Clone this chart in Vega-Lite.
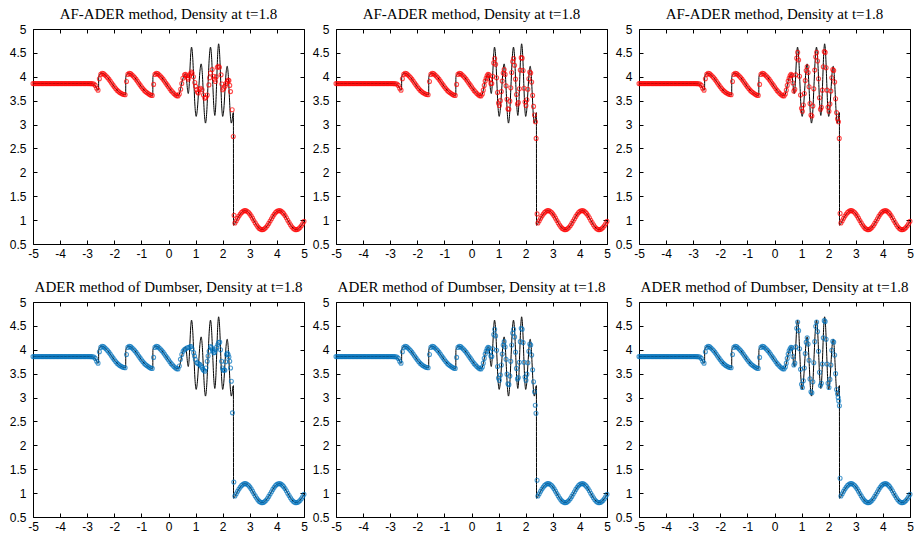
{
"$schema":"https://vega.github.io/schema/vega-lite/v6.json",
"background":"white",
"autosize":{"type":"pad"},
"padding":{"left":8,"top":6,"right":0,"bottom":0},
"config":{
 "view":{"stroke":"black","strokeWidth":1},
 "axis":{"grid":false,"domain":false,"ticks":true,"tickColor":"black","tickSize":-4,"tickWidth":1,"labelFont":"Liberation Sans","labelFontSize":12,"labelColor":"black","labelFlush":false,"labelOverlap":false},
 "axisX":{"labelPadding":8},
 "axisY":{"labelPadding":11},
 "title":{"font":"Liberation Serif","fontSize":15,"fontWeight":"normal","color":"black","offset":1,"anchor":"middle"}
},
"datasets":{
"ref":[{"x":-5,"y":3.857},{"x":-2.9,"y":3.857},{"x":-2.8,"y":3.852},{"x":-2.75,"y":3.84},{"x":-2.7,"y":3.81},{"x":-2.65,"y":3.76},{"x":-2.61,"y":3.72},{"x":-2.58,"y":3.725},{"x":-2.575,"y":4.0},{"x":-2.52,"y":4.06},{"x":-2.45,"y":4.075},{"x":-2.38,"y":4.06},{"x":-2.3,"y":4.02},{"x":-2.2,"y":3.95},{"x":-2.1,"y":3.87},{"x":-2.0,"y":3.79},{"x":-1.9,"y":3.72},{"x":-1.8,"y":3.67},{"x":-1.7,"y":3.64},{"x":-1.62,"y":3.625},{"x":-1.58,"y":3.63},{"x":-1.575,"y":4.0},{"x":-1.52,"y":4.06},{"x":-1.45,"y":4.075},{"x":-1.38,"y":4.06},{"x":-1.3,"y":4.02},{"x":-1.2,"y":3.95},{"x":-1.1,"y":3.87},{"x":-1.0,"y":3.79},{"x":-0.9,"y":3.72},{"x":-0.8,"y":3.67},{"x":-0.7,"y":3.63},{"x":-0.62,"y":3.61},{"x":-0.58,"y":3.615},{"x":-0.575,"y":4.0},{"x":-0.52,"y":4.06},{"x":-0.45,"y":4.075},{"x":-0.38,"y":4.06},{"x":-0.3,"y":4.02},{"x":-0.2,"y":3.95},{"x":-0.1,"y":3.87},{"x":0,"y":3.79},{"x":0.1,"y":3.71},{"x":0.2,"y":3.65},{"x":0.3,"y":3.605},{"x":0.35,"y":3.6},{"x":0.4,"y":3.64},{"x":0.45,"y":3.76},{"x":0.5,"y":3.9},{"x":0.55,"y":3.99},{"x":0.6,"y":4.05},{"x":0.63,"y":4.06},{"x":0.655,"y":4.0},{"x":0.68,"y":3.855},{"x":0.705,"y":3.71},{"x":0.73,"y":3.65},{"x":0.76,"y":3.79},{"x":0.79,"y":4.135},{"x":0.82,"y":4.48},{"x":0.85,"y":4.62},{"x":0.8925,"y":4.41},{"x":0.935,"y":3.895},{"x":0.9775,"y":3.38},{"x":1.02,"y":3.17},{"x":1.066,"y":3.33},{"x":1.1125,"y":3.72},{"x":1.159,"y":4.11},{"x":1.205,"y":4.27},{"x":1.245,"y":4.09},{"x":1.285,"y":3.65},{"x":1.325,"y":3.21},{"x":1.365,"y":3.03},{"x":1.411,"y":3.26},{"x":1.4575,"y":3.825},{"x":1.504,"y":4.39},{"x":1.55,"y":4.62},{"x":1.59,"y":4.41},{"x":1.63,"y":3.905},{"x":1.67,"y":3.4},{"x":1.71,"y":3.19},{"x":1.745,"y":3.41},{"x":1.78,"y":3.94},{"x":1.815,"y":4.47},{"x":1.85,"y":4.69},{"x":1.8875,"y":4.47},{"x":1.925,"y":3.93},{"x":1.9625,"y":3.39},{"x":2.0,"y":3.17},{"x":2.041,"y":3.32},{"x":2.0825,"y":3.695},{"x":2.124,"y":4.07},{"x":2.165,"y":4.22},{"x":2.204,"y":4.05},{"x":2.2425,"y":3.625},{"x":2.281,"y":3.2},{"x":2.32,"y":3.03},{"x":2.35,"y":3.1},{"x":2.375,"y":3.22},{"x":2.395,"y":3.25},{"x":2.4,"y":0.893},{"x":2.5,"y":0.987},{"x":2.6,"y":1.084},{"x":2.7,"y":1.161},{"x":2.8,"y":1.198},{"x":2.9,"y":1.187},{"x":3.0,"y":1.13},{"x":3.1,"y":1.041},{"x":3.2,"y":0.942},{"x":3.3,"y":0.858},{"x":3.4,"y":0.808},{"x":3.5,"y":0.805},{"x":3.6,"y":0.85},{"x":3.7,"y":0.931},{"x":3.8,"y":1.03},{"x":3.9,"y":1.121},{"x":4.0,"y":1.183},{"x":4.1,"y":1.199},{"x":4.2,"y":1.167},{"x":4.3,"y":1.094},{"x":4.4,"y":0.998},{"x":4.5,"y":0.902},{"x":4.6,"y":0.831},{"x":4.7,"y":0.8},{"x":4.8,"y":0.819},{"x":4.9,"y":0.882},{"x":5.0,"y":0.974}],
"smooth":[{"x":-5,"y":3.857},{"x":-4.95,"y":3.857},{"x":-4.9,"y":3.857},{"x":-4.85,"y":3.857},{"x":-4.8,"y":3.857},{"x":-4.75,"y":3.857},{"x":-4.7,"y":3.857},{"x":-4.65,"y":3.857},{"x":-4.6,"y":3.857},{"x":-4.55,"y":3.857},{"x":-4.5,"y":3.857},{"x":-4.45,"y":3.857},{"x":-4.4,"y":3.857},{"x":-4.35,"y":3.857},{"x":-4.3,"y":3.857},{"x":-4.25,"y":3.857},{"x":-4.2,"y":3.857},{"x":-4.15,"y":3.857},{"x":-4.1,"y":3.857},{"x":-4.05,"y":3.857},{"x":-4,"y":3.857},{"x":-3.95,"y":3.857},{"x":-3.9,"y":3.857},{"x":-3.85,"y":3.857},{"x":-3.8,"y":3.857},{"x":-3.75,"y":3.857},{"x":-3.7,"y":3.857},{"x":-3.65,"y":3.857},{"x":-3.6,"y":3.857},{"x":-3.55,"y":3.857},{"x":-3.5,"y":3.857},{"x":-3.45,"y":3.857},{"x":-3.4,"y":3.857},{"x":-3.35,"y":3.857},{"x":-3.3,"y":3.857},{"x":-3.25,"y":3.857},{"x":-3.2,"y":3.857},{"x":-3.15,"y":3.857},{"x":-3.1,"y":3.857},{"x":-3.05,"y":3.857},{"x":-3,"y":3.857},{"x":-2.95,"y":3.857},{"x":-2.9,"y":3.857},{"x":-2.85,"y":3.856},{"x":-2.8,"y":3.854},{"x":-2.75,"y":3.85},{"x":-2.7,"y":3.82},{"x":-2.65,"y":3.76},{"x":-2.6,"y":3.72},{"x":-2.55,"y":3.96},{"x":-2.5,"y":4.05},{"x":-2.45,"y":4.075},{"x":-2.4,"y":4.065},{"x":-2.35,"y":4.04},{"x":-2.3,"y":4.015},{"x":-2.25,"y":3.985},{"x":-2.2,"y":3.95},{"x":-2.15,"y":3.91},{"x":-2.1,"y":3.87},{"x":-2.05,"y":3.83},{"x":-2,"y":3.79},{"x":-1.95,"y":3.755},{"x":-1.9,"y":3.72},{"x":-1.85,"y":3.695},{"x":-1.8,"y":3.67},{"x":-1.75,"y":3.655},{"x":-1.7,"y":3.64},{"x":-1.65,"y":3.63},{"x":-1.6,"y":3.625},{"x":-1.55,"y":3.9},{"x":-1.5,"y":4.05},{"x":-1.45,"y":4.075},{"x":-1.4,"y":4.065},{"x":-1.35,"y":4.04},{"x":-1.3,"y":4.015},{"x":-1.25,"y":3.985},{"x":-1.2,"y":3.95},{"x":-1.15,"y":3.91},{"x":-1.1,"y":3.87},{"x":-1.05,"y":3.83},{"x":-1,"y":3.79},{"x":-0.95,"y":3.755},{"x":-0.9,"y":3.72},{"x":-0.85,"y":3.69},{"x":-0.8,"y":3.67},{"x":-0.75,"y":3.65},{"x":-0.7,"y":3.63},{"x":-0.65,"y":3.615},{"x":-0.6,"y":3.61},{"x":-0.55,"y":3.84},{"x":-0.5,"y":4.05},{"x":-0.45,"y":4.075},{"x":-0.4,"y":4.065},{"x":-0.35,"y":4.04},{"x":-0.3,"y":4.015},{"x":-0.25,"y":3.985},{"x":-0.2,"y":3.95},{"x":-0.15,"y":3.91},{"x":-0.1,"y":3.87},{"x":-0.05,"y":3.83},{"x":0,"y":3.79},{"x":0.05,"y":3.75},{"x":0.1,"y":3.71},{"x":0.15,"y":3.68},{"x":0.2,"y":3.65},{"x":0.25,"y":3.625},{"x":0.3,"y":3.605},{"x":0.35,"y":3.6},{"x":2.45,"y":0.938},{"x":2.5,"y":0.987},{"x":2.55,"y":1.037},{"x":2.6,"y":1.084},{"x":2.65,"y":1.126},{"x":2.7,"y":1.161},{"x":2.75,"y":1.185},{"x":2.8,"y":1.198},{"x":2.85,"y":1.199},{"x":2.9,"y":1.187},{"x":2.95,"y":1.164},{"x":3,"y":1.13},{"x":3.05,"y":1.088},{"x":3.1,"y":1.041},{"x":3.15,"y":0.992},{"x":3.2,"y":0.942},{"x":3.25,"y":0.897},{"x":3.3,"y":0.858},{"x":3.35,"y":0.827},{"x":3.4,"y":0.808},{"x":3.45,"y":0.8},{"x":3.5,"y":0.805},{"x":3.55,"y":0.822},{"x":3.6,"y":0.85},{"x":3.65,"y":0.887},{"x":3.7,"y":0.931},{"x":3.75,"y":0.98},{"x":3.8,"y":1.03},{"x":3.85,"y":1.078},{"x":3.9,"y":1.121},{"x":3.95,"y":1.157},{"x":4,"y":1.183},{"x":4.05,"y":1.197},{"x":4.1,"y":1.199},{"x":4.15,"y":1.189},{"x":4.2,"y":1.167},{"x":4.25,"y":1.135},{"x":4.3,"y":1.094},{"x":4.35,"y":1.048},{"x":4.4,"y":0.998},{"x":4.45,"y":0.949},{"x":4.5,"y":0.902},{"x":4.55,"y":0.862},{"x":4.6,"y":0.831},{"x":4.65,"y":0.81},{"x":4.7,"y":0.8},{"x":4.75,"y":0.804},{"x":4.8,"y":0.819},{"x":4.85,"y":0.845},{"x":4.9,"y":0.882},{"x":4.95,"y":0.925},{"x":5,"y":0.974}],
"osc":[
{"p":1,"x":0.4,"y":3.64},{"p":1,"x":0.45,"y":3.74},{"p":1,"x":0.49,"y":3.86},{"p":1,"x":0.53,"y":3.97},{"p":1,"x":0.59,"y":4.04},{"p":1,"x":0.63,"y":4.05},{"p":1,"x":0.66,"y":4.02},{"p":1,"x":0.7,"y":3.98},{"p":1,"x":0.73,"y":3.95},{"p":1,"x":0.77,"y":4.02},{"p":1,"x":0.81,"y":4.06},{"p":1,"x":0.84,"y":4.1},{"p":1,"x":0.87,"y":4.08},{"p":1,"x":0.92,"y":4.0},{"p":1,"x":0.97,"y":3.88},{"p":1,"x":1.0,"y":3.8},{"p":1,"x":1.04,"y":3.73},{"p":1,"x":1.07,"y":3.68},{"p":1,"x":1.1,"y":3.66},{"p":1,"x":1.14,"y":3.74},{"p":1,"x":1.18,"y":3.76},{"p":1,"x":1.24,"y":3.73},{"p":1,"x":1.29,"y":3.62},{"p":1,"x":1.34,"y":3.55},{"p":1,"x":1.38,"y":3.57},{"p":1,"x":1.43,"y":3.62},{"p":1,"x":1.49,"y":3.83},{"p":1,"x":1.52,"y":3.98},{"p":1,"x":1.55,"y":4.08},{"p":1,"x":1.61,"y":4.15},{"p":1,"x":1.67,"y":4.01},{"p":1,"x":1.7,"y":3.95},{"p":1,"x":1.73,"y":3.9},{"p":1,"x":1.76,"y":4.0},{"p":1,"x":1.8,"y":4.2},{"p":1,"x":1.84,"y":4.22},{"p":1,"x":1.88,"y":4.2},{"p":1,"x":1.94,"y":4.04},{"p":1,"x":1.97,"y":3.85},{"p":1,"x":2.0,"y":3.73},{"p":1,"x":2.04,"y":3.76},{"p":1,"x":2.08,"y":3.8},{"p":1,"x":2.12,"y":3.86},{"p":1,"x":2.17,"y":3.9},{"p":1,"x":2.2,"y":3.93},{"p":1,"x":2.23,"y":3.92},{"p":1,"x":2.26,"y":3.82},{"p":1,"x":2.29,"y":3.69},{"p":1,"x":2.35,"y":3.31},{"p":1,"x":2.39,"y":2.75},{"p":1,"x":2.42,"y":1.1},
{"p":2,"x":0.4,"y":3.64},{"p":2,"x":0.435,"y":3.72},{"p":2,"x":0.47,"y":3.82},{"p":2,"x":0.505,"y":3.91},{"p":2,"x":0.54,"y":3.97},{"p":2,"x":0.575,"y":4.02},{"p":2,"x":0.61,"y":4.05},{"p":2,"x":0.645,"y":4.04},{"p":2,"x":0.68,"y":3.95},{"p":2,"x":0.715,"y":3.86},{"p":2,"x":0.75,"y":3.86},{"p":2,"x":0.785,"y":4.01},{"p":2,"x":0.82,"y":4.29},{"p":2,"x":0.855,"y":4.38},{"p":2,"x":0.89,"y":4.26},{"p":2,"x":0.925,"y":3.98},{"p":2,"x":0.96,"y":3.67},{"p":2,"x":0.995,"y":3.45},{"p":2,"x":1.03,"y":3.4},{"p":2,"x":1.065,"y":3.5},{"p":2,"x":1.1,"y":3.69},{"p":2,"x":1.135,"y":3.91},{"p":2,"x":1.17,"y":4.08},{"p":2,"x":1.205,"y":4.15},{"p":2,"x":1.24,"y":4.05},{"p":2,"x":1.275,"y":3.81},{"p":2,"x":1.31,"y":3.53},{"p":2,"x":1.345,"y":3.33},{"p":2,"x":1.38,"y":3.32},{"p":2,"x":1.415,"y":3.49},{"p":2,"x":1.45,"y":3.77},{"p":2,"x":1.485,"y":4.09},{"p":2,"x":1.52,"y":4.32},{"p":2,"x":1.555,"y":4.38},{"p":2,"x":1.59,"y":4.24},{"p":2,"x":1.625,"y":3.95},{"p":2,"x":1.66,"y":3.63},{"p":2,"x":1.695,"y":3.43},{"p":2,"x":1.73,"y":3.46},{"p":2,"x":1.765,"y":3.75},{"p":2,"x":1.8,"y":4.14},{"p":2,"x":1.835,"y":4.4},{"p":2,"x":1.87,"y":4.39},{"p":2,"x":1.905,"y":4.13},{"p":2,"x":1.94,"y":3.76},{"p":2,"x":1.975,"y":3.47},{"p":2,"x":2.01,"y":3.4},{"p":2,"x":2.045,"y":3.52},{"p":2,"x":2.08,"y":3.74},{"p":2,"x":2.115,"y":3.96},{"p":2,"x":2.15,"y":4.1},{"p":2,"x":2.185,"y":4.08},{"p":2,"x":2.22,"y":3.89},{"p":2,"x":2.255,"y":3.61},{"p":2,"x":2.29,"y":3.38},{"p":2,"x":2.325,"y":3.2},{"p":2,"x":2.36,"y":3.06},{"p":2,"x":2.385,"y":2.71},{"p":2,"x":2.42,"y":1.13},
{"p":3,"x":0.4,"y":3.64},{"p":3,"x":0.435,"y":3.72},{"p":3,"x":0.47,"y":3.82},{"p":3,"x":0.505,"y":3.91},{"p":3,"x":0.54,"y":3.97},{"p":3,"x":0.575,"y":4.02},{"p":3,"x":0.61,"y":4.05},{"p":3,"x":0.645,"y":4.03},{"p":3,"x":0.68,"y":3.87},{"p":3,"x":0.715,"y":3.7},{"p":3,"x":0.75,"y":3.74},{"p":3,"x":0.785,"y":4.04},{"p":3,"x":0.82,"y":4.39},{"p":3,"x":0.855,"y":4.51},{"p":3,"x":0.89,"y":4.35},{"p":3,"x":0.925,"y":4.01},{"p":3,"x":0.96,"y":3.62},{"p":3,"x":0.995,"y":3.34},{"p":3,"x":1.03,"y":3.28},{"p":3,"x":1.065,"y":3.41},{"p":3,"x":1.1,"y":3.65},{"p":3,"x":1.135,"y":3.92},{"p":3,"x":1.17,"y":4.13},{"p":3,"x":1.205,"y":4.21},{"p":3,"x":1.24,"y":4.09},{"p":3,"x":1.275,"y":3.79},{"p":3,"x":1.31,"y":3.44},{"p":3,"x":1.345,"y":3.2},{"p":3,"x":1.38,"y":3.18},{"p":3,"x":1.415,"y":3.39},{"p":3,"x":1.45,"y":3.75},{"p":3,"x":1.485,"y":4.14},{"p":3,"x":1.52,"y":4.42},{"p":3,"x":1.555,"y":4.51},{"p":3,"x":1.59,"y":4.33},{"p":3,"x":1.625,"y":3.96},{"p":3,"x":1.66,"y":3.56},{"p":3,"x":1.695,"y":3.32},{"p":3,"x":1.73,"y":3.36},{"p":3,"x":1.765,"y":3.72},{"p":3,"x":1.8,"y":4.21},{"p":3,"x":1.835,"y":4.53},{"p":3,"x":1.87,"y":4.51},{"p":3,"x":1.905,"y":4.19},{"p":3,"x":1.94,"y":3.72},{"p":3,"x":1.975,"y":3.36},{"p":3,"x":2.01,"y":3.28},{"p":3,"x":2.045,"y":3.43},{"p":3,"x":2.08,"y":3.7},{"p":3,"x":2.115,"y":3.98},{"p":3,"x":2.15,"y":4.15},{"p":3,"x":2.185,"y":4.13},{"p":3,"x":2.22,"y":3.89},{"p":3,"x":2.255,"y":3.54},{"p":3,"x":2.29,"y":3.25},{"p":3,"x":2.325,"y":3.12},{"p":3,"x":2.36,"y":3.06},{"p":3,"x":2.39,"y":2.71},{"p":3,"x":2.42,"y":1.14},
{"p":4,"x":0.4,"y":3.66},{"p":4,"x":0.44,"y":3.8},{"p":4,"x":0.49,"y":3.9},{"p":4,"x":0.54,"y":3.97},{"p":4,"x":0.58,"y":4.0},{"p":4,"x":0.63,"y":4.02},{"p":4,"x":0.69,"y":4.04},{"p":4,"x":0.75,"y":4.05},{"p":4,"x":0.8,"y":4.06},{"p":4,"x":0.84,"y":4.07},{"p":4,"x":0.87,"y":4.02},{"p":4,"x":0.93,"y":3.94},{"p":4,"x":0.96,"y":3.87},{"p":4,"x":0.99,"y":3.8},{"p":4,"x":1.05,"y":3.73},{"p":4,"x":1.08,"y":3.72},{"p":4,"x":1.12,"y":3.7},{"p":4,"x":1.16,"y":3.69},{"p":4,"x":1.2,"y":3.66},{"p":4,"x":1.24,"y":3.63},{"p":4,"x":1.27,"y":3.59},{"p":4,"x":1.3,"y":3.57},{"p":4,"x":1.34,"y":3.55},{"p":4,"x":1.38,"y":3.62},{"p":4,"x":1.43,"y":3.76},{"p":4,"x":1.46,"y":3.87},{"p":4,"x":1.5,"y":3.97},{"p":4,"x":1.55,"y":4.07},{"p":4,"x":1.58,"y":4.05},{"p":4,"x":1.61,"y":4.02},{"p":4,"x":1.64,"y":3.98},{"p":4,"x":1.67,"y":3.94},{"p":4,"x":1.7,"y":3.95},{"p":4,"x":1.73,"y":4.0},{"p":4,"x":1.77,"y":4.05},{"p":4,"x":1.82,"y":4.11},{"p":4,"x":1.85,"y":4.15},{"p":4,"x":1.89,"y":4.16},{"p":4,"x":1.92,"y":4.0},{"p":4,"x":1.96,"y":3.76},{"p":4,"x":1.99,"y":3.62},{"p":4,"x":2.02,"y":3.57},{"p":4,"x":2.05,"y":3.58},{"p":4,"x":2.08,"y":3.57},{"p":4,"x":2.11,"y":3.75},{"p":4,"x":2.14,"y":3.9},{"p":4,"x":2.17,"y":3.93},{"p":4,"x":2.2,"y":3.9},{"p":4,"x":2.23,"y":3.85},{"p":4,"x":2.26,"y":3.76},{"p":4,"x":2.29,"y":3.62},{"p":4,"x":2.32,"y":3.34},{"p":4,"x":2.36,"y":2.68},{"p":4,"x":2.41,"y":1.23},
{"p":5,"x":0.4,"y":3.64},{"p":5,"x":0.435,"y":3.72},{"p":5,"x":0.47,"y":3.82},{"p":5,"x":0.505,"y":3.91},{"p":5,"x":0.54,"y":3.97},{"p":5,"x":0.575,"y":4.02},{"p":5,"x":0.61,"y":4.05},{"p":5,"x":0.645,"y":4.04},{"p":5,"x":0.68,"y":3.96},{"p":5,"x":0.715,"y":3.87},{"p":5,"x":0.75,"y":3.86},{"p":5,"x":0.785,"y":4.02},{"p":5,"x":0.82,"y":4.32},{"p":5,"x":0.855,"y":4.43},{"p":5,"x":0.89,"y":4.29},{"p":5,"x":0.925,"y":3.99},{"p":5,"x":0.96,"y":3.65},{"p":5,"x":0.995,"y":3.41},{"p":5,"x":1.03,"y":3.36},{"p":5,"x":1.065,"y":3.47},{"p":5,"x":1.1,"y":3.68},{"p":5,"x":1.135,"y":3.91},{"p":5,"x":1.17,"y":4.1},{"p":5,"x":1.205,"y":4.17},{"p":5,"x":1.24,"y":4.06},{"p":5,"x":1.275,"y":3.8},{"p":5,"x":1.31,"y":3.49},{"p":5,"x":1.345,"y":3.29},{"p":5,"x":1.38,"y":3.27},{"p":5,"x":1.415,"y":3.45},{"p":5,"x":1.45,"y":3.76},{"p":5,"x":1.485,"y":4.1},{"p":5,"x":1.52,"y":4.35},{"p":5,"x":1.555,"y":4.43},{"p":5,"x":1.59,"y":4.27},{"p":5,"x":1.625,"y":3.95},{"p":5,"x":1.66,"y":3.61},{"p":5,"x":1.695,"y":3.39},{"p":5,"x":1.73,"y":3.42},{"p":5,"x":1.765,"y":3.74},{"p":5,"x":1.8,"y":4.17},{"p":5,"x":1.835,"y":4.45},{"p":5,"x":1.87,"y":4.43},{"p":5,"x":1.905,"y":4.15},{"p":5,"x":1.94,"y":3.74},{"p":5,"x":1.975,"y":3.43},{"p":5,"x":2.01,"y":3.36},{"p":5,"x":2.045,"y":3.49},{"p":5,"x":2.08,"y":3.73},{"p":5,"x":2.115,"y":3.97},{"p":5,"x":2.15,"y":4.12},{"p":5,"x":2.185,"y":4.1},{"p":5,"x":2.22,"y":3.89},{"p":5,"x":2.255,"y":3.58},{"p":5,"x":2.29,"y":3.33},{"p":5,"x":2.325,"y":3.12},{"p":5,"x":2.355,"y":2.84},{"p":5,"x":2.38,"y":2.67},{"p":5,"x":2.42,"y":1.27},
{"p":6,"x":0.4,"y":3.64},{"p":6,"x":0.435,"y":3.72},{"p":6,"x":0.47,"y":3.82},{"p":6,"x":0.505,"y":3.91},{"p":6,"x":0.54,"y":3.98},{"p":6,"x":0.575,"y":4.02},{"p":6,"x":0.61,"y":4.05},{"p":6,"x":0.645,"y":4.04},{"p":6,"x":0.68,"y":3.86},{"p":6,"x":0.715,"y":3.68},{"p":6,"x":0.75,"y":3.72},{"p":6,"x":0.785,"y":4.06},{"p":6,"x":0.82,"y":4.45},{"p":6,"x":0.855,"y":4.58},{"p":6,"x":0.89,"y":4.4},{"p":6,"x":0.925,"y":4.02},{"p":6,"x":0.96,"y":3.59},{"p":6,"x":0.995,"y":3.28},{"p":6,"x":1.03,"y":3.21},{"p":6,"x":1.065,"y":3.35},{"p":6,"x":1.1,"y":3.62},{"p":6,"x":1.135,"y":3.92},{"p":6,"x":1.17,"y":4.16},{"p":6,"x":1.205,"y":4.25},{"p":6,"x":1.24,"y":4.12},{"p":6,"x":1.275,"y":3.78},{"p":6,"x":1.31,"y":3.39},{"p":6,"x":1.345,"y":3.12},{"p":6,"x":1.38,"y":3.1},{"p":6,"x":1.415,"y":3.33},{"p":6,"x":1.45,"y":3.73},{"p":6,"x":1.485,"y":4.17},{"p":6,"x":1.52,"y":4.49},{"p":6,"x":1.555,"y":4.58},{"p":6,"x":1.59,"y":4.38},{"p":6,"x":1.625,"y":3.97},{"p":6,"x":1.66,"y":3.53},{"p":6,"x":1.695,"y":3.25},{"p":6,"x":1.73,"y":3.3},{"p":6,"x":1.765,"y":3.7},{"p":6,"x":1.8,"y":4.25},{"p":6,"x":1.835,"y":4.61},{"p":6,"x":1.87,"y":4.59},{"p":6,"x":1.905,"y":4.22},{"p":6,"x":1.94,"y":3.7},{"p":6,"x":1.975,"y":3.3},{"p":6,"x":2.01,"y":3.21},{"p":6,"x":2.045,"y":3.38},{"p":6,"x":2.08,"y":3.68},{"p":6,"x":2.115,"y":3.99},{"p":6,"x":2.15,"y":4.18},{"p":6,"x":2.185,"y":4.16},{"p":6,"x":2.22,"y":3.89},{"p":6,"x":2.255,"y":3.5},{"p":6,"x":2.29,"y":3.17},{"p":6,"x":2.325,"y":3.08},{"p":6,"x":2.35,"y":3.0},{"p":6,"x":2.37,"y":2.93},{"p":6,"x":2.395,"y":2.83},{"p":6,"x":2.42,"y":1.31}
]},
"columns":3,
"bounds":"flush",
"spacing":{"row":58,"column":32},
"concat":[
{"width":271,"height":215,"title":"AF-ADER method, Density at t=1.8","resolve":{"axis":{"x":"independent","y":"independent"}},"layer":[
 {"data":{"name":"ref"},"mark":{"type":"line","color":"black","strokeWidth":1,"interpolate":"monotone"},"encoding":{"x":{"field":"x","type":"quantitative","scale":{"domain":[-5,5],"nice":false},"axis":{"orient":"bottom","title":null,"values":[-5,-4,-3,-2,-1,0,1,2,3,4,5],"labelExpr":"datum.value < 0 ? '-' + abs(datum.value) : '' + datum.value"}},"y":{"field":"y","type":"quantitative","scale":{"domain":[0.5,5],"nice":false,"zero":false},"axis":{"orient":"left","title":null,"values":[0.5,1,1.5,2,2.5,3,3.5,4,4.5,5],"labelExpr":"datum.value % 1 ? datum.value + '\u00a0\u00a0' : '' + datum.value"}}}},
 {"data":{"name":"ref"},"mark":{"type":"point","opacity":0},"encoding":{"x":{"field":"x","type":"quantitative","axis":{"orient":"top","labels":false,"title":null,"values":[-5,-4,-3,-2,-1,0,1,2,3,4,5]}},"y":{"field":"y","type":"quantitative","axis":{"orient":"right","labels":false,"title":null,"values":[0.5,1,1.5,2,2.5,3,3.5,4,4.5,5]}}}},
 {"data":{"name":"smooth"},"mark":{"type":"point","shape":"circle","filled":false,"color":"#ff0000","size":16,"strokeWidth":1.1},"encoding":{"x":{"field":"x","type":"quantitative","axis":null},"y":{"field":"y","type":"quantitative","axis":null}}},
 {"data":{"name":"osc"},"transform":[{"filter":"datum.p == 1"}],"mark":{"type":"point","shape":"circle","filled":false,"color":"#ff0000","size":16,"strokeWidth":1.1},"encoding":{"x":{"field":"x","type":"quantitative","axis":null},"y":{"field":"y","type":"quantitative","axis":null}}}
]},
{"width":271,"height":215,"title":"AF-ADER method, Density at t=1.8","resolve":{"axis":{"x":"independent","y":"independent"}},"layer":[
 {"data":{"name":"ref"},"mark":{"type":"line","color":"black","strokeWidth":1,"interpolate":"monotone"},"encoding":{"x":{"field":"x","type":"quantitative","scale":{"domain":[-5,5],"nice":false},"axis":{"orient":"bottom","title":null,"values":[-5,-4,-3,-2,-1,0,1,2,3,4,5],"labelExpr":"datum.value < 0 ? '-' + abs(datum.value) : '' + datum.value"}},"y":{"field":"y","type":"quantitative","scale":{"domain":[0.5,5],"nice":false,"zero":false},"axis":{"orient":"left","title":null,"values":[0.5,1,1.5,2,2.5,3,3.5,4,4.5,5],"labelExpr":"datum.value % 1 ? datum.value + '\u00a0\u00a0' : '' + datum.value"}}}},
 {"data":{"name":"ref"},"mark":{"type":"point","opacity":0},"encoding":{"x":{"field":"x","type":"quantitative","axis":{"orient":"top","labels":false,"title":null,"values":[-5,-4,-3,-2,-1,0,1,2,3,4,5]}},"y":{"field":"y","type":"quantitative","axis":{"orient":"right","labels":false,"title":null,"values":[0.5,1,1.5,2,2.5,3,3.5,4,4.5,5]}}}},
 {"data":{"name":"smooth"},"mark":{"type":"point","shape":"circle","filled":false,"color":"#ff0000","size":16,"strokeWidth":1.1},"encoding":{"x":{"field":"x","type":"quantitative","axis":null},"y":{"field":"y","type":"quantitative","axis":null}}},
 {"data":{"name":"osc"},"transform":[{"filter":"datum.p == 2"}],"mark":{"type":"point","shape":"circle","filled":false,"color":"#ff0000","size":16,"strokeWidth":1.1},"encoding":{"x":{"field":"x","type":"quantitative","axis":null},"y":{"field":"y","type":"quantitative","axis":null}}}
]},
{"width":271,"height":215,"title":"AF-ADER method, Density at t=1.8","resolve":{"axis":{"x":"independent","y":"independent"}},"layer":[
 {"data":{"name":"ref"},"mark":{"type":"line","color":"black","strokeWidth":1,"interpolate":"monotone"},"encoding":{"x":{"field":"x","type":"quantitative","scale":{"domain":[-5,5],"nice":false},"axis":{"orient":"bottom","title":null,"values":[-5,-4,-3,-2,-1,0,1,2,3,4,5],"labelExpr":"datum.value < 0 ? '-' + abs(datum.value) : '' + datum.value"}},"y":{"field":"y","type":"quantitative","scale":{"domain":[0.5,5],"nice":false,"zero":false},"axis":{"orient":"left","title":null,"values":[0.5,1,1.5,2,2.5,3,3.5,4,4.5,5],"labelExpr":"datum.value % 1 ? datum.value + '\u00a0\u00a0' : '' + datum.value"}}}},
 {"data":{"name":"ref"},"mark":{"type":"point","opacity":0},"encoding":{"x":{"field":"x","type":"quantitative","axis":{"orient":"top","labels":false,"title":null,"values":[-5,-4,-3,-2,-1,0,1,2,3,4,5]}},"y":{"field":"y","type":"quantitative","axis":{"orient":"right","labels":false,"title":null,"values":[0.5,1,1.5,2,2.5,3,3.5,4,4.5,5]}}}},
 {"data":{"name":"smooth"},"mark":{"type":"point","shape":"circle","filled":false,"color":"#ff0000","size":16,"strokeWidth":1.1},"encoding":{"x":{"field":"x","type":"quantitative","axis":null},"y":{"field":"y","type":"quantitative","axis":null}}},
 {"data":{"name":"osc"},"transform":[{"filter":"datum.p == 3"}],"mark":{"type":"point","shape":"circle","filled":false,"color":"#ff0000","size":16,"strokeWidth":1.1},"encoding":{"x":{"field":"x","type":"quantitative","axis":null},"y":{"field":"y","type":"quantitative","axis":null}}}
]},
{"width":271,"height":215,"title":"ADER method of Dumbser, Density at t=1.8","resolve":{"axis":{"x":"independent","y":"independent"}},"layer":[
 {"data":{"name":"ref"},"mark":{"type":"line","color":"black","strokeWidth":1,"interpolate":"monotone"},"encoding":{"x":{"field":"x","type":"quantitative","scale":{"domain":[-5,5],"nice":false},"axis":{"orient":"bottom","title":null,"values":[-5,-4,-3,-2,-1,0,1,2,3,4,5],"labelExpr":"datum.value < 0 ? '-' + abs(datum.value) : '' + datum.value"}},"y":{"field":"y","type":"quantitative","scale":{"domain":[0.5,5],"nice":false,"zero":false},"axis":{"orient":"left","title":null,"values":[0.5,1,1.5,2,2.5,3,3.5,4,4.5,5],"labelExpr":"datum.value % 1 ? datum.value + '\u00a0\u00a0' : '' + datum.value"}}}},
 {"data":{"name":"ref"},"mark":{"type":"point","opacity":0},"encoding":{"x":{"field":"x","type":"quantitative","axis":{"orient":"top","labels":false,"title":null,"values":[-5,-4,-3,-2,-1,0,1,2,3,4,5]}},"y":{"field":"y","type":"quantitative","axis":{"orient":"right","labels":false,"title":null,"values":[0.5,1,1.5,2,2.5,3,3.5,4,4.5,5]}}}},
 {"data":{"name":"smooth"},"mark":{"type":"point","shape":"circle","filled":false,"color":"#0072bd","size":16,"strokeWidth":1.1},"encoding":{"x":{"field":"x","type":"quantitative","axis":null},"y":{"field":"y","type":"quantitative","axis":null}}},
 {"data":{"name":"osc"},"transform":[{"filter":"datum.p == 4"}],"mark":{"type":"point","shape":"circle","filled":false,"color":"#0072bd","size":16,"strokeWidth":1.1},"encoding":{"x":{"field":"x","type":"quantitative","axis":null},"y":{"field":"y","type":"quantitative","axis":null}}}
]},
{"width":271,"height":215,"title":"ADER method of Dumbser, Density at t=1.8","resolve":{"axis":{"x":"independent","y":"independent"}},"layer":[
 {"data":{"name":"ref"},"mark":{"type":"line","color":"black","strokeWidth":1,"interpolate":"monotone"},"encoding":{"x":{"field":"x","type":"quantitative","scale":{"domain":[-5,5],"nice":false},"axis":{"orient":"bottom","title":null,"values":[-5,-4,-3,-2,-1,0,1,2,3,4,5],"labelExpr":"datum.value < 0 ? '-' + abs(datum.value) : '' + datum.value"}},"y":{"field":"y","type":"quantitative","scale":{"domain":[0.5,5],"nice":false,"zero":false},"axis":{"orient":"left","title":null,"values":[0.5,1,1.5,2,2.5,3,3.5,4,4.5,5],"labelExpr":"datum.value % 1 ? datum.value + '\u00a0\u00a0' : '' + datum.value"}}}},
 {"data":{"name":"ref"},"mark":{"type":"point","opacity":0},"encoding":{"x":{"field":"x","type":"quantitative","axis":{"orient":"top","labels":false,"title":null,"values":[-5,-4,-3,-2,-1,0,1,2,3,4,5]}},"y":{"field":"y","type":"quantitative","axis":{"orient":"right","labels":false,"title":null,"values":[0.5,1,1.5,2,2.5,3,3.5,4,4.5,5]}}}},
 {"data":{"name":"smooth"},"mark":{"type":"point","shape":"circle","filled":false,"color":"#0072bd","size":16,"strokeWidth":1.1},"encoding":{"x":{"field":"x","type":"quantitative","axis":null},"y":{"field":"y","type":"quantitative","axis":null}}},
 {"data":{"name":"osc"},"transform":[{"filter":"datum.p == 5"}],"mark":{"type":"point","shape":"circle","filled":false,"color":"#0072bd","size":16,"strokeWidth":1.1},"encoding":{"x":{"field":"x","type":"quantitative","axis":null},"y":{"field":"y","type":"quantitative","axis":null}}}
]},
{"width":271,"height":215,"title":"ADER method of Dumbser, Density at t=1.8","resolve":{"axis":{"x":"independent","y":"independent"}},"layer":[
 {"data":{"name":"ref"},"mark":{"type":"line","color":"black","strokeWidth":1,"interpolate":"monotone"},"encoding":{"x":{"field":"x","type":"quantitative","scale":{"domain":[-5,5],"nice":false},"axis":{"orient":"bottom","title":null,"values":[-5,-4,-3,-2,-1,0,1,2,3,4,5],"labelExpr":"datum.value < 0 ? '-' + abs(datum.value) : '' + datum.value"}},"y":{"field":"y","type":"quantitative","scale":{"domain":[0.5,5],"nice":false,"zero":false},"axis":{"orient":"left","title":null,"values":[0.5,1,1.5,2,2.5,3,3.5,4,4.5,5],"labelExpr":"datum.value % 1 ? datum.value + '\u00a0\u00a0' : '' + datum.value"}}}},
 {"data":{"name":"ref"},"mark":{"type":"point","opacity":0},"encoding":{"x":{"field":"x","type":"quantitative","axis":{"orient":"top","labels":false,"title":null,"values":[-5,-4,-3,-2,-1,0,1,2,3,4,5]}},"y":{"field":"y","type":"quantitative","axis":{"orient":"right","labels":false,"title":null,"values":[0.5,1,1.5,2,2.5,3,3.5,4,4.5,5]}}}},
 {"data":{"name":"smooth"},"mark":{"type":"point","shape":"circle","filled":false,"color":"#0072bd","size":16,"strokeWidth":1.1},"encoding":{"x":{"field":"x","type":"quantitative","axis":null},"y":{"field":"y","type":"quantitative","axis":null}}},
 {"data":{"name":"osc"},"transform":[{"filter":"datum.p == 6"}],"mark":{"type":"point","shape":"circle","filled":false,"color":"#0072bd","size":16,"strokeWidth":1.1},"encoding":{"x":{"field":"x","type":"quantitative","axis":null},"y":{"field":"y","type":"quantitative","axis":null}}}
]}
]
}
